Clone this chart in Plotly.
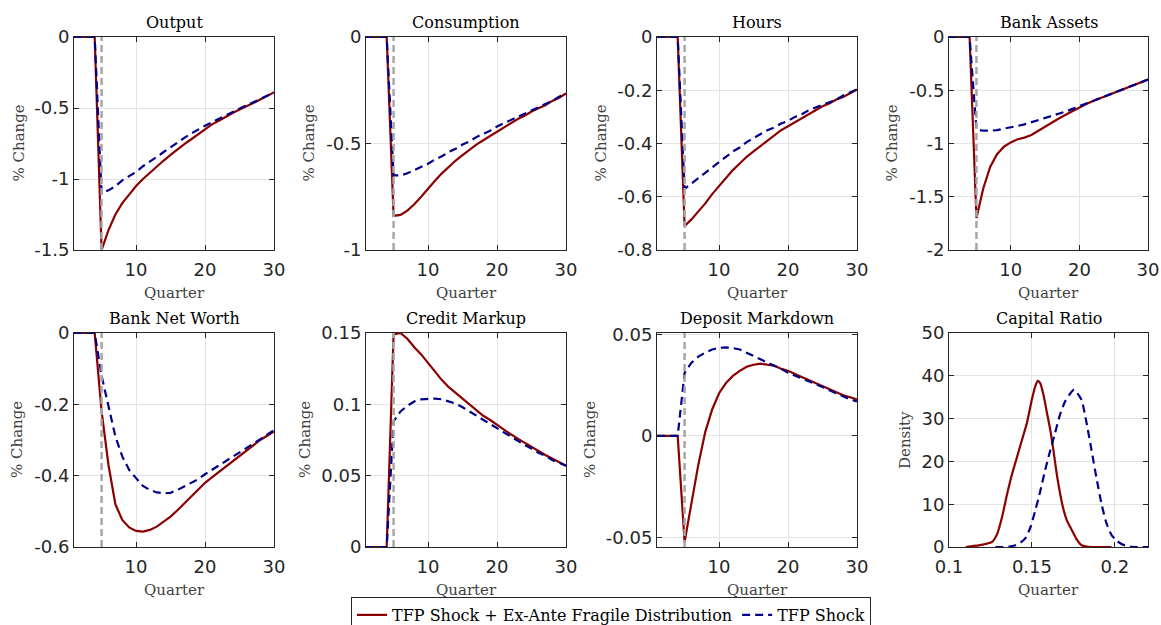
import plotly.graph_objects as go

W, H = 1161, 625
RED = "#8b0000"
BLUE = "#00008b"
GRAY = "#a6a6a6"
INK = "#262626"
LABEL = "#404040"
SERIF = "DejaVu Serif, serif"
SANS = "DejaVu Sans, sans-serif"

# ---------------------------------------------------------------- data
quarters = list(range(1, 31))
shock_quarter = 5

output_fragile = [0, 0, 0, 0, -1.50, -1.36, -1.25, -1.17, -1.11, -1.05, -1.00, -0.955, -0.91, -0.87,
                  -0.83, -0.79, -0.755, -0.72, -0.685, -0.645, -0.615, -0.59, -0.56, -0.535, -0.51,
                  -0.49, -0.465, -0.44, -0.415, -0.39]
output_tfp = [0, 0, 0, 0, -1.10, -1.08, -1.05, -1.01, -0.98, -0.95, -0.91, -0.88, -0.845, -0.81,
              -0.775, -0.74, -0.71, -0.68, -0.65, -0.625, -0.60, -0.575, -0.55, -0.525, -0.505,
              -0.48, -0.46, -0.435, -0.41, -0.39]

consumption_fragile = [0, 0, 0, 0, -0.84, -0.835, -0.815, -0.785, -0.75, -0.71, -0.675, -0.64, -0.61,
                       -0.58, -0.555, -0.53, -0.505, -0.485, -0.465, -0.445, -0.425, -0.405, -0.385,
                       -0.37, -0.35, -0.335, -0.32, -0.30, -0.285, -0.265]
consumption_tfp = [0, 0, 0, 0, -0.65, -0.65, -0.64, -0.625, -0.61, -0.595, -0.575, -0.56, -0.54,
                   -0.525, -0.505, -0.49, -0.47, -0.455, -0.44, -0.42, -0.405, -0.39, -0.375, -0.36,
                   -0.345, -0.33, -0.315, -0.30, -0.28, -0.265]

hours_fragile = [0, 0, 0, 0, -0.71, -0.685, -0.655, -0.625, -0.59, -0.56, -0.53, -0.50, -0.475,
                 -0.45, -0.43, -0.41, -0.39, -0.37, -0.35, -0.335, -0.32, -0.305, -0.29, -0.275,
                 -0.26, -0.25, -0.235, -0.225, -0.21, -0.197]
hours_tfp = [0, 0, 0, 0, -0.57, -0.55, -0.53, -0.51, -0.49, -0.47, -0.45, -0.43, -0.415, -0.395,
             -0.38, -0.365, -0.35, -0.34, -0.325, -0.315, -0.30, -0.29, -0.275, -0.265, -0.255,
             -0.245, -0.235, -0.22, -0.21, -0.197]

assets_fragile = [0, 0, 0, 0, -1.70, -1.42, -1.22, -1.10, -1.03, -0.99, -0.96, -0.945, -0.92, -0.88,
                  -0.84, -0.80, -0.765, -0.73, -0.695, -0.66, -0.63, -0.60, -0.575, -0.55, -0.525,
                  -0.50, -0.475, -0.455, -0.43, -0.40]
assets_tfp = [0, 0, 0, 0, -0.87, -0.88, -0.88, -0.875, -0.86, -0.85, -0.835, -0.82, -0.80, -0.785,
              -0.765, -0.745, -0.72, -0.70, -0.675, -0.65, -0.625, -0.60, -0.575, -0.55, -0.525,
              -0.50, -0.475, -0.455, -0.43, -0.40]

networth_fragile = [0, 0, 0, 0, -0.22, -0.37, -0.48, -0.524, -0.545, -0.555, -0.557, -0.552,
                    -0.543, -0.53, -0.515, -0.497, -0.478, -0.458, -0.438, -0.42, -0.405, -0.39,
                    -0.375, -0.36, -0.345, -0.33, -0.315, -0.30, -0.288, -0.276]
networth_tfp = [0, 0, 0, 0, -0.12, -0.206, -0.29, -0.346, -0.384, -0.407, -0.429, -0.44, -0.447,
                -0.449, -0.448, -0.44, -0.43, -0.42, -0.41, -0.396, -0.384, -0.372, -0.36, -0.348,
                -0.335, -0.323, -0.31, -0.298, -0.285, -0.272]

markup_fragile = [0, 0, 0, 0, 0.149, 0.150, 0.146, 0.140, 0.135, 0.129, 0.123, 0.117, 0.112, 0.108,
                  0.104, 0.100, 0.096, 0.092, 0.089, 0.0855, 0.082, 0.079, 0.076, 0.073, 0.070,
                  0.067, 0.0645, 0.062, 0.0595, 0.057]
markup_tfp = [0, 0, 0, 0, 0.088, 0.095, 0.099, 0.102, 0.1035, 0.104, 0.104, 0.1035, 0.102, 0.1005,
              0.098, 0.095, 0.092, 0.089, 0.086, 0.083, 0.080, 0.077, 0.074, 0.0715, 0.069, 0.066,
              0.064, 0.061, 0.059, 0.057]

markdown_fragile = [0, 0, 0, 0, -0.052, -0.033, -0.014, 0.002, 0.013, 0.021, 0.026, 0.0295, 0.032,
                    0.034, 0.035, 0.0355, 0.035, 0.0345, 0.033, 0.032, 0.0305, 0.029, 0.0275, 0.026,
                    0.0245, 0.023, 0.0215, 0.020, 0.019, 0.018]
markdown_tfp = [0, 0, 0, 0, 0.031, 0.036, 0.039, 0.041, 0.0425, 0.0433, 0.0435, 0.0432, 0.0425,
                0.041, 0.0393, 0.0377, 0.036, 0.0345, 0.033, 0.031, 0.0297, 0.0283, 0.027, 0.0255,
                0.024, 0.0225, 0.021, 0.0195, 0.018, 0.017]

# capital-ratio densities
capratio_fragile_x = [0.110, 0.114, 0.118, 0.122, 0.126, 0.129, 0.132, 0.135, 0.138, 0.141, 0.144,
                      0.147, 0.150, 0.152, 0.1535, 0.155, 0.157, 0.159, 0.161, 0.163, 0.165, 0.167,
                      0.169, 0.171, 0.174, 0.177, 0.180, 0.183, 0.186, 0.190, 0.194, 0.198]
capratio_fragile_y = [0.0, 0.2, 0.4, 0.7, 1.2, 3.0, 7.0, 12.3, 17.0, 21.0, 25.0, 29.0, 34.5, 37.5,
                      38.8, 38.3, 35.5, 31.5, 27.5, 22.5, 17.0, 12.5, 8.8, 6.3, 4.0, 1.8, 0.4, 0.1,
                      0.0, 0.0, 0.0, 0.0]
capratio_tfp_x = [0.128, 0.132, 0.136, 0.140, 0.143, 0.146, 0.149, 0.152, 0.155, 0.158, 0.161,
                  0.164, 0.167, 0.170, 0.173, 0.1755, 0.178, 0.180, 0.183, 0.186, 0.189, 0.192,
                  0.195, 0.198, 0.201, 0.204, 0.207, 0.210, 0.214, 0.218, 0.220]
capratio_tfp_y = [0.0, 0.0, 0.1, 0.4, 1.0, 2.0, 4.5, 8.5, 13.0, 18.0, 22.5, 26.7, 31.0, 34.0, 35.8,
                  36.8, 35.6, 34.3, 28.9, 22.5, 16.0, 10.0, 5.5, 2.8, 1.5, 0.7, 0.25, 0.05, 0.0,
                  0.0, 0.0]

series_names = ["TFP Shock + Ex-Ante Fragile Distribution", "TFP Shock"]

panels = [
    dict(title="Output", ylabel="% Change", red=output_fragile, blue=output_tfp,
         yrange=[-1.5, 0], yticks=[0, -0.5, -1, -1.5], ytext=["0", "-0.5", "-1", "-1.5"]),
    dict(title="Consumption", ylabel="% Change", red=consumption_fragile, blue=consumption_tfp,
         yrange=[-1, 0], yticks=[0, -0.5, -1], ytext=["0", "-0.5", "-1"]),
    dict(title="Hours", ylabel="% Change", red=hours_fragile, blue=hours_tfp,
         yrange=[-0.8, 0], yticks=[0, -0.2, -0.4, -0.6, -0.8],
         ytext=["0", "-0.2", "-0.4", "-0.6", "-0.8"]),
    dict(title="Bank Assets", ylabel="% Change", red=assets_fragile, blue=assets_tfp,
         yrange=[-2, 0], yticks=[0, -0.5, -1, -1.5, -2], ytext=["0", "-0.5", "-1", "-1.5", "-2"]),
    dict(title="Bank Net Worth", ylabel="% Change", red=networth_fragile, blue=networth_tfp,
         yrange=[-0.6, 0], yticks=[0, -0.2, -0.4, -0.6], ytext=["0", "-0.2", "-0.4", "-0.6"]),
    dict(title="Credit Markup", ylabel="% Change", red=markup_fragile, blue=markup_tfp,
         yrange=[0, 0.15], yticks=[0, 0.05, 0.1, 0.15], ytext=["0", "0.05", "0.1", "0.15"]),
    dict(title="Deposit Markdown", ylabel="% Change", red=markdown_fragile, blue=markdown_tfp,
         yrange=[-0.0546, 0.0506], yticks=[-0.05, 0, 0.05], ytext=["-0.05", "0", "0.05"]),
    dict(title="Capital Ratio", ylabel="Density", yrange=[0, 50],
         yticks=[0, 10, 20, 30, 40, 50], ytext=["0", "10", "20", "30", "40", "50"]),
]

quarter_ticks = [10, 20, 30]
ratio_ticks = [0.1, 0.15, 0.2]
ratio_ticktext = ["0.1", "0.15", "0.2"]

# ---------------------------------------------------------------- layout geometry (pixels)
col_px = [(74, 274), (366, 566), (657, 857), (949, 1148)]
row_px = [(37, 250), (333, 547)]
ylabel_px = [[18, 308, 600, 891], [17, 305, 590, 905]]
title_py = [22, 318]
xlabel_py = [293, 590]

fig = go.Figure()
annotations = []
shapes = []
layout_axes = {}

axis_common = dict(
    showline=True, linecolor=INK, linewidth=1, mirror="allticks",
    ticks="inside", ticklen=5, tickcolor=INK, tickwidth=1,
    showgrid=True, gridcolor="#e4e4e4", gridwidth=1, zeroline=False,
    automargin=False,
    tickfont=dict(family=SANS, size=18, color=INK),
)

for k, p in enumerate(panels):
    r, c = divmod(k, 4)
    x0, x1 = col_px[c]
    y0, y1 = row_px[r]
    n = k + 1
    xa = "x" if n == 1 else f"x{n}"
    ya = "y" if n == 1 else f"y{n}"
    xkey = "xaxis" if n == 1 else f"xaxis{n}"
    ykey = "yaxis" if n == 1 else f"yaxis{n}"

    if p["title"] == "Capital Ratio":
        fig.add_trace(go.Scatter(x=capratio_fragile_x, y=capratio_fragile_y, mode="lines",
                                 line=dict(color=RED, width=2.2, shape="spline", smoothing=0.6),
                                 xaxis=xa, yaxis=ya, showlegend=False, hoverinfo="skip"))
        fig.add_trace(go.Scatter(x=capratio_tfp_x, y=capratio_tfp_y, mode="lines",
                                 line=dict(color=BLUE, width=2.2, dash="8px,5px",
                                           shape="spline", smoothing=0.6),
                                 xaxis=xa, yaxis=ya, showlegend=False, hoverinfo="skip"))
        xcfg = dict(range=[0.1, 0.22], tickvals=ratio_ticks, ticktext=ratio_ticktext)
    else:
        fig.add_trace(go.Scatter(x=quarters, y=p["red"], mode="lines",
                                 line=dict(color=RED, width=2.2),
                                 name=series_names[0], legendrank=1,
                                 xaxis=xa, yaxis=ya, showlegend=(k == 0)))
        fig.add_trace(go.Scatter(x=quarters, y=p["blue"], mode="lines",
                                 line=dict(color=BLUE, width=2.2, dash="8px,5px"),
                                 name=series_names[1], legendrank=2,
                                 xaxis=xa, yaxis=ya, showlegend=(k == 0)))
        shapes.append(dict(type="line", xref=xa, yref=f"{ya} domain",
                           x0=shock_quarter, x1=shock_quarter, y0=0, y1=1,
                           line=dict(color=GRAY, width=2.5, dash="7px,4px"), layer="above"))
        xcfg = dict(range=[1, 30], tickvals=quarter_ticks, ticktext=[str(t) for t in quarter_ticks])

    layout_axes[xkey] = dict(axis_common, domain=[x0 / W, x1 / W], anchor=ya,
                             ticklabelstandoff=3, **xcfg)
    layout_axes[ykey] = dict(axis_common, domain=[1 - y1 / H, 1 - y0 / H], anchor=xa,
                             range=p["yrange"], tickvals=p["yticks"], ticktext=p["ytext"])

    cx = (x0 + x1) / 2 / W
    annotations.append(dict(text=p["title"], x=cx, y=1 - title_py[r] / H, xref="paper", yref="paper",
                            xanchor="center", yanchor="middle", showarrow=False,
                            font=dict(family=SERIF, size=16, color="black")))
    annotations.append(dict(text="Quarter", x=cx, y=1 - xlabel_py[r] / H, xref="paper", yref="paper",
                            xanchor="center", yanchor="middle", showarrow=False,
                            font=dict(family=SERIF, size=15, color=LABEL)))
    annotations.append(dict(text=p["ylabel"], x=ylabel_px[r][c] / W, y=1 - (y0 + y1) / 2 / H,
                            xref="paper", yref="paper", xanchor="center", yanchor="middle",
                            textangle=-90, showarrow=False,
                            font=dict(family=SERIF, size=15, color=LABEL)))

fig.update_layout(
    template="none",
    width=W, height=H,
    margin=dict(l=0, r=0, t=0, b=0, pad=0, autoexpand=False),
    paper_bgcolor="white", plot_bgcolor="white",
    annotations=annotations, shapes=shapes,
    showlegend=True,
    legend=dict(orientation="h", x=611 / W, xanchor="center", y=1 - 597 / H, yanchor="top",
                bgcolor="white", bordercolor=INK, borderwidth=1, itemwidth=30,
                font=dict(family=SERIF, size=16, color="black")),
    **layout_axes,
)

fig.write_html("out.html")
